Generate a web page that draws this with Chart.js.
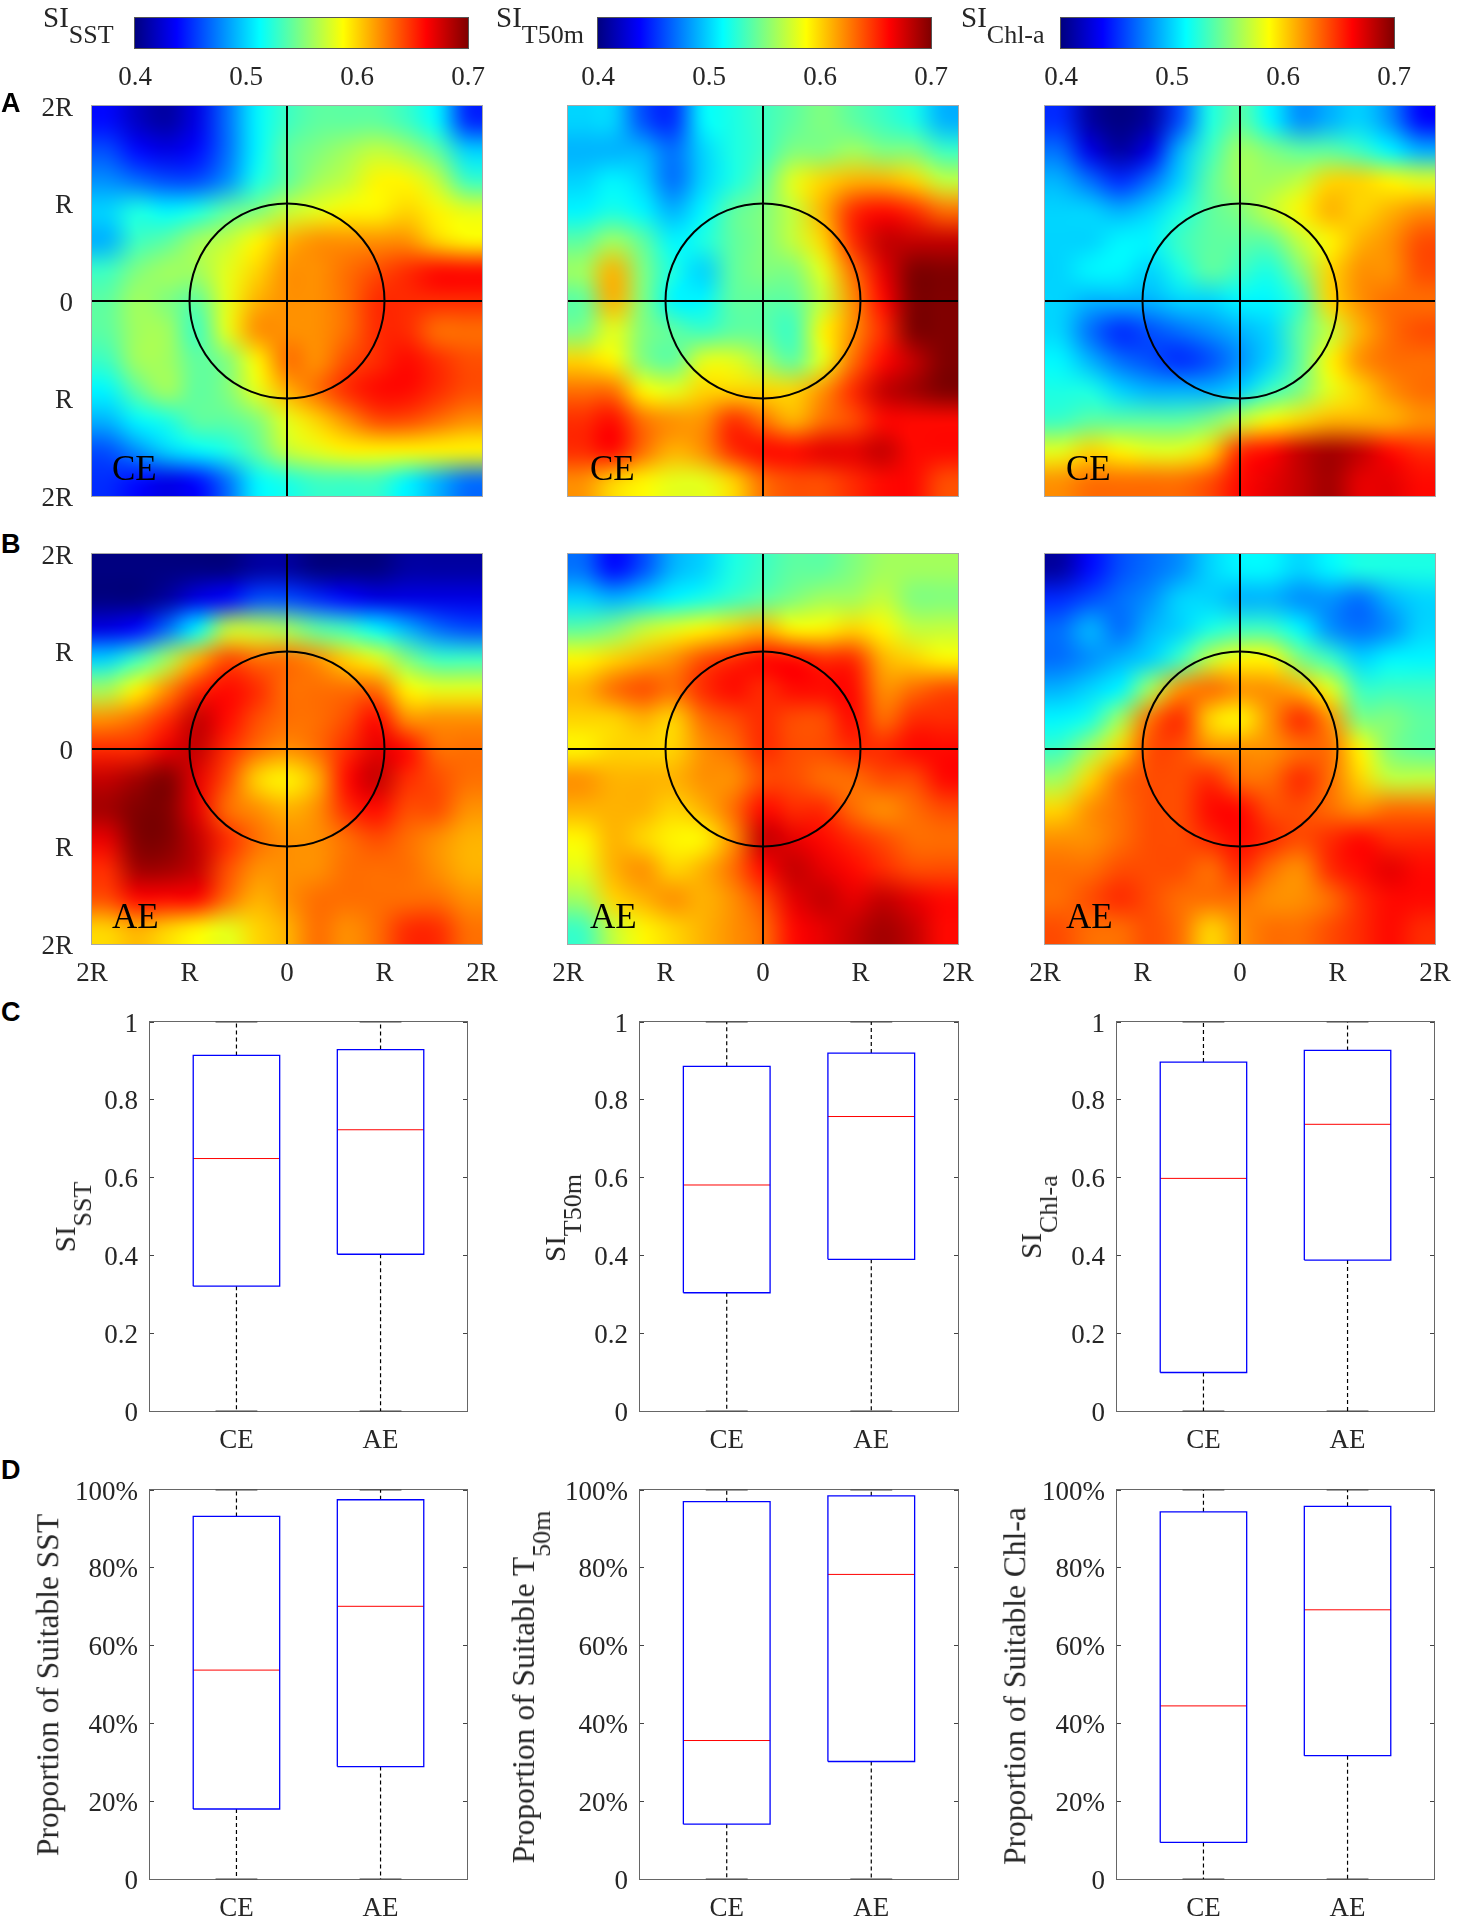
<!DOCTYPE html>
<html>
<head>
<meta charset="utf-8">
<title>Suitability index around eddies</title>
<script src="https://cdn.jsdelivr.net/npm/chart.js@4/dist/chart.umd.min.js"></script>
<style>
  html, body { margin: 0; background: #fff; }
  #fig { position: relative; width: 1457px; height: 1925px; overflow: hidden; }
  #fig canvas { position: absolute; }
  .t { position: absolute; font-family: "Liberation Serif", serif; color: #262626; white-space: nowrap; line-height: 1; }
  .t span { line-height: 0; font-size: 26px; }
  .letter { position: absolute; left: 1px; font: bold 27px "Liberation Sans", sans-serif; color: #000; line-height: 1; }
</style>
</head>
<body>
<div id="fig"></div>
<script>
// SI x 100, top row first
var sstCE = [
  [44,42,41,43,47,51,53,54,54,54,53,51,45],
  [46,44,43,44,47,51,54,55,56,57,56,54,50],
  [48,47,46,46,48,52,54,56,57,59,59,57,53],
  [50,52,51,52,54,55,57,58,59,59,60,59,58],
  [49,53,54,56,57,59,61,62,62,62,62,60,59],
  [53,55,56,56,58,60,62,62,63,64,65,66,66],
  [54,56,55,54,58,61,62,62,63,65,65,65,65],
  [54,56,56,53,58,62,62,62,63,65,65,63,63],
  [53,56,56,54,55,59,63,62,64,65,66,65,64],
  [51,54,56,54,55,58,61,63,65,66,66,65,64],
  [49,51,52,54,54,55,58,60,62,64,64,63,62],
  [46,48,50,51,52,54,57,58,59,59,59,59,59],
  [45,44,43,44,47,51,52,53,53,53,51,49,47]
];
var t50CE = [
  [50,50,46,45,51,52,53,54,55,54,53,52,49],
  [49,49,49,47,50,52,53,55,55,56,55,55,53],
  [50,51,50,47,50,52,54,58,60,61,61,60,57],
  [51,52,51,49,51,54,55,57,61,65,66,65,63],
  [54,56,54,51,52,54,55,57,60,65,68,68,68],
  [56,61,55,52,50,54,55,55,58,63,67,70,70],
  [54,61,55,51,51,54,54,54,57,62,66,70,70],
  [55,58,55,54,53,54,54,53,59,62,65,70,70],
  [60,59,55,54,58,58,56,54,58,63,66,68,70],
  [63,63,59,58,60,60,60,60,62,65,68,69,70],
  [65,66,63,62,62,65,63,61,63,64,66,66,66],
  [65,66,63,61,62,65,66,66,67,67,68,66,66],
  [62,60,59,58,58,60,63,64,64,65,66,66,64]
];
var chlCE = [
  [45,41,40,41,46,52,54,51,48,49,50,48,44],
  [47,43,41,43,49,53,56,55,54,54,53,51,49],
  [49,47,45,47,50,54,56,56,57,60,60,59,58],
  [50,50,49,50,52,54,55,57,59,61,60,61,62],
  [50,50,51,51,53,54,54,54,57,59,61,62,64],
  [50,51,51,50,52,54,53,52,55,60,62,62,64],
  [50,49,49,49,50,50,51,51,53,60,62,63,63],
  [50,47,45,46,47,48,49,50,54,57,61,63,64],
  [51,49,47,46,45,46,48,50,54,59,62,63,63],
  [52,52,50,49,49,49,50,53,55,58,60,62,63],
  [53,54,54,54,54,55,57,59,60,61,61,61,62],
  [58,60,59,58,58,60,65,66,68,69,68,66,65],
  [62,63,63,63,63,64,66,67,68,69,67,67,66]
];
var sstAE = [
  [40,40,40,40,40,41,41,40,40,40,41,41,41],
  [40,40,41,43,44,46,46,45,44,43,43,43,43],
  [43,44,47,51,57,57,56,54,53,51,49,47,46],
  [50,53,56,61,64,63,63,62,60,58,55,53,53],
  [56,59,62,65,66,65,63,63,63,63,59,58,58],
  [62,63,65,68,66,64,63,63,64,66,62,62,62],
  [65,65,67,68,65,63,62,63,65,67,66,63,63],
  [68,69,70,67,64,60,59,61,66,68,65,64,63],
  [69,70,70,67,63,62,61,62,65,66,64,64,62],
  [67,70,70,68,65,63,62,62,63,64,63,62,61],
  [65,69,69,68,64,62,62,62,63,63,63,62,61],
  [64,66,66,66,63,61,62,63,63,63,63,63,62],
  [60,61,60,59,58,60,61,63,62,63,65,65,63]
];
var t50AE = [
  [47,44,46,49,50,52,53,54,54,55,56,56,56],
  [50,49,50,51,52,53,54,55,56,56,57,55,55],
  [54,55,57,58,59,60,61,59,59,60,59,57,57],
  [59,60,61,62,64,65,66,66,65,65,61,60,59],
  [61,63,64,63,65,66,65,66,66,66,62,63,64],
  [60,60,61,60,63,64,65,64,64,66,63,65,65],
  [59,60,60,60,62,63,65,64,64,65,65,66,66],
  [62,61,61,61,62,62,64,64,63,63,64,64,66],
  [61,61,61,60,61,63,66,65,65,63,62,63,64],
  [59,61,60,59,59,62,68,67,66,65,64,63,63],
  [58,61,62,60,61,63,66,68,67,66,65,64,64],
  [56,60,61,62,61,62,64,67,68,67,68,67,66],
  [53,57,59,60,61,62,63,66,67,68,69,68,66]
];
var chlAE = [
  [41,44,46,47,48,50,51,51,50,51,52,52,52],
  [45,46,47,48,50,50,49,49,48,48,47,49,50],
  [47,49,47,49,50,52,53,53,51,48,47,48,50],
  [47,48,49,50,53,57,59,59,55,53,50,51,51],
  [49,50,51,56,62,63,62,62,61,58,53,53,53],
  [51,52,56,63,65,60,59,62,65,62,55,55,54],
  [53,56,60,64,64,62,62,62,63,63,59,55,54],
  [56,60,63,64,64,65,63,63,65,63,60,57,57],
  [60,62,63,64,64,66,66,64,64,63,62,63,63],
  [62,62,63,64,64,65,66,65,64,65,66,65,65],
  [63,63,64,64,64,63,65,63,62,65,66,67,66],
  [63,64,65,64,63,63,63,62,62,63,65,66,66],
  [64,63,63,64,63,60,62,63,63,64,65,66,65]
];

var categories = ["CE", "AE"];
var eddyTicks = { "-2": "2R", "-1": "R", "0": "0", "1": "R", "2": "2R" };

// box plots: lower quartile, median, upper quartile for CE, AE
var siSstQ1 = [0.321, 0.403], siSstMed = [0.649, 0.723], siSstQ3 = [0.914, 0.929];
var siT50Q1 = [0.304, 0.390], siT50Med = [0.581, 0.757], siT50Q3 = [0.886, 0.920];
var siChlQ1 = [0.099, 0.388], siChlMed = [0.598, 0.737], siChlQ3 = [0.897, 0.927];
var propSstQ1 = [0.180, 0.289], propSstMed = [0.537, 0.701], propSstQ3 = [0.932, 0.975];
var propT50Q1 = [0.141, 0.302], propT50Med = [0.356, 0.783], propT50Q3 = [0.970, 0.985];
var propChlQ1 = [0.094, 0.317], propChlMed = [0.445, 0.692], propChlQ3 = [0.944, 0.958];
var whiskerLow = [0, 0], whiskerHigh = [1, 1];

// jet colour map: stop position, r, g, b
var jetStops = [[0,0,0,128],[0.125,0,0,255],[0.375,0,255,255],[0.625,255,255,0],[0.875,255,0,0],[1,128,0,0]];
var siMin = 0.4, siMax = 0.7;

Chart.defaults.font.family = '"Liberation Serif", serif';
Chart.defaults.font.size = 27;
Chart.defaults.color = "#262626";

function jet(v) {
  var t = Math.min(1, Math.max(0, (v - siMin) / (siMax - siMin)));
  for (var i = 1; i < jetStops.length; i++) {
    if (t <= jetStops[i][0]) {
      var a = jetStops[i - 1], b = jetStops[i], f = (t - a[0]) / (b[0] - a[0]);
      return "rgb(" + [1, 2, 3].map(function (k) { return Math.round(a[k] + (b[k] - a[k]) * f); }).join(",") + ")";
    }
  }
  return "rgb(128,0,0)";
}

// plot frame
Chart.register({
  id: "frame",
  beforeDatasetsDraw: function (chart, args, opts) { if (opts.under) drawFrame(chart, opts); },
  afterDatasetsDraw: function (chart, args, opts) { if (!opts.under) drawFrame(chart, opts); }
});
function drawFrame(chart, opts) {
  var a = chart.chartArea, c = chart.ctx;
  c.save();
  c.strokeStyle = opts.color || "#666";
  c.lineWidth = 1;
  c.strokeRect(a.left - 0.5, a.top - 0.5, a.right - a.left + 1, a.bottom - a.top + 1);
  c.restore();
}

// the map cells come out of the library as flat squares; resample them so the map reads as smooth
Chart.register({
  id: "smoothCells",
  afterDatasetDraw: function (chart, args) {
    var ds = chart.data.datasets[args.index];
    if (!ds.cells) return;
    var a = chart.chartArea, c = chart.ctx, r = chart.currentDevicePixelRatio;
    var small = document.createElement("canvas");
    small.width = ds.cells; small.height = ds.cells;
    var s = small.getContext("2d");
    s.imageSmoothingEnabled = false;
    s.drawImage(chart.canvas, a.left * r, a.top * r, (a.right - a.left) * r, (a.bottom - a.top) * r, 0, 0, ds.cells, ds.cells);
    c.save();
    c.imageSmoothingEnabled = true;
    c.imageSmoothingQuality = "high";
    c.drawImage(small, a.left, a.top, a.right - a.left, a.bottom - a.top);
    c.restore();
  }
});

var fig = document.getElementById("fig");

function addCanvas(x0, y0, x1, y1, m) {
  var cv = document.createElement("canvas");
  cv.width = x1 - x0 + m.l + m.r;
  cv.height = y1 - y0 + m.t + m.b;
  cv.style.left = (x0 - m.l) + "px";
  cv.style.top = (y0 - m.t) + "px";
  fig.appendChild(cv);
  return cv;
}
function fixSize(prop, size) {
  return function (s) {
    s[prop] = size;
    s.paddingLeft = s.paddingRight = s.paddingTop = s.paddingBottom = 0;
  };
}
function baseOptions(m, plugins) {
  return {
    responsive: false, animation: false, events: [],
    layout: { padding: { left: 0, top: m.t, right: m.r, bottom: 0 } },
    plugins: Object.assign({ legend: { display: false }, tooltip: { enabled: false } }, plugins)
  };
}

function heatMap(grid, x0, y0, x1, y1, showY, showX) {
  var m = { l: 60, r: 40, t: 24, b: 50 };
  var n = grid.length, cells = [];
  grid.forEach(function (row, r) {
    row.forEach(function (v, c) {
      cells.push({ x: -2 + (c + 0.5) * 4 / n, y: 2 - (r + 0.5) * 4 / n, v: v / 100 });
    });
  });
  var eddyTick = function (v) { return eddyTicks[String(v)]; };
  var opts = baseOptions(m, { frame: { color: "#a8a8a8" } });
  opts.scales = {
    x: { type: "linear", min: -2, max: 2, afterFit: fixSize("height", m.b),
      grid: { display: false }, border: { display: false },
      ticks: { display: showX, stepSize: 1, padding: 6, maxRotation: 0, autoSkip: false, callback: eddyTick } },
    y: { type: "linear", min: -2, max: 2, afterFit: fixSize("width", m.l),
      grid: { display: false }, border: { display: false },
      ticks: { display: showY, stepSize: 1, padding: 11, labelOffset: 2.5, autoSkip: false, callback: eddyTick } }
  };
  return new Chart(addCanvas(x0, y0, x1, y1, m), {
    type: "scatter",
    data: { datasets: [
      { data: [{ x: 0, y: 0 }], pointStyle: "circle", backgroundColor: "transparent", borderColor: "#000", borderWidth: 2,
        radius: function (c) {
          if (!c.chart.chartArea) return 0;
          var s = c.chart.scales.x;
          return s.getPixelForValue(1) - s.getPixelForValue(0);
        } },
      { data: [{ x: -2, y: 0 }, { x: 2, y: 0 }], showLine: true, pointRadius: 0, borderColor: "#000", borderWidth: 2 },
      { data: [{ x: 0, y: -2 }, { x: 0, y: 2 }], showLine: true, pointRadius: 0, borderColor: "#000", borderWidth: 2 },
      { data: cells, cells: n, pointStyle: "rect", borderWidth: 0,
        radius: function (c) {
          var a = c.chart.chartArea;
          return a ? ((a.right - a.left) / n / 2 + 1) * Math.SQRT2 : 0;
        },
        backgroundColor: function (c) { return c.raw ? jet(c.raw.v) : "#fff"; } }
    ] },
    options: opts
  });
}

function colorBar(x0, x1) {
  var m = { l: 30, r: 40, t: 4, b: 46 };
  var opts = baseOptions(m, { frame: { color: "#555" } });
  opts.indexAxis = "y";
  opts.scales = {
    x: { type: "linear", min: siMin, max: siMax, afterFit: fixSize("height", m.b),
      grid: { drawOnChartArea: false, tickLength: -3, tickColor: "#333", tickWidth: 1 }, border: { display: false },
      ticks: { stepSize: 0.1, padding: 17, maxRotation: 0, autoSkip: false,
        callback: function (v) { return v.toFixed(1); } } },
    y: { type: "category", afterFit: fixSize("width", m.l), grid: { display: false }, border: { display: false }, ticks: { display: false } }
  };
  return new Chart(addCanvas(x0, 18, x1, 48, m), {
    type: "bar",
    data: { labels: ["SI"], datasets: [{
      data: [[siMin, siMax]], barPercentage: 1, categoryPercentage: 1, borderWidth: 0,
      backgroundColor: function (c) {
        var a = c.chart.chartArea;
        if (!a) return "#000";
        var g = c.chart.ctx.createLinearGradient(a.left, 0, a.right, 0);
        jetStops.forEach(function (s) { g.addColorStop(s[0], "rgb(" + s[1] + "," + s[2] + "," + s[3] + ")"); });
        return g;
      } }] },
    options: opts
  });
}

function boxPlot(q1, med, q3, x0, y0, x1, y1, tickText) {
  var m = { l: 120, r: 10, t: 24, b: 46 };
  var half = 0.3, cap = 0.145, sets = [];
  categories.forEach(function (name, i) {
    var c = i + 1;
    sets.push({ data: [{ x: c - half, y: q1[i] }, { x: c + half, y: q1[i] }, { x: c + half, y: q3[i] }, { x: c - half, y: q3[i] }, { x: c - half, y: q1[i] }],
      showLine: true, pointRadius: 0, borderColor: "#0000ff", borderWidth: 1.3, tension: 0 });
    sets.push({ data: [{ x: c - half, y: med[i] }, { x: c + half, y: med[i] }], showLine: true, pointRadius: 0, borderColor: "#ff0000", borderWidth: 1 });
    sets.push({ data: [{ x: c, y: q3[i] }, { x: c, y: whiskerHigh[i] }], showLine: true, pointRadius: 0, borderColor: "#000", borderWidth: 1.2, borderDash: [4, 3] });
    sets.push({ data: [{ x: c, y: q1[i] }, { x: c, y: whiskerLow[i] }], showLine: true, pointRadius: 0, borderColor: "#000", borderWidth: 1.2, borderDash: [4, 3] });
    sets.push({ data: [{ x: c - cap, y: whiskerHigh[i] }, { x: c + cap, y: whiskerHigh[i] }], showLine: true, pointRadius: 0, borderColor: "#444", borderWidth: 1, clip: 2 });
    sets.push({ data: [{ x: c - cap, y: whiskerLow[i] }, { x: c + cap, y: whiskerLow[i] }], showLine: true, pointRadius: 0, borderColor: "#444", borderWidth: 1, clip: 2 });
  });
  var opts = baseOptions(m, { frame: { color: "#666", under: true } });
  var tickGrid = { drawOnChartArea: false, tickLength: -4, tickColor: "#444", tickWidth: 1 };
  opts.scales = {
    x: { type: "linear", min: 0.4, max: 2.6, afterFit: fixSize("height", m.b),
      afterBuildTicks: function (s) { s.ticks = categories.map(function (n, i) { return { value: i + 1 }; }); },
      grid: { display: false }, border: { display: false },
      ticks: { padding: 5.5, maxRotation: 0, autoSkip: false, callback: function (v) { return categories[v - 1]; } } },
    y: { type: "linear", min: 0, max: 1, afterFit: fixSize("width", m.l), grid: tickGrid, border: { display: false },
      ticks: { stepSize: 0.2, padding: 16, labelOffset: 2.5, autoSkip: false, callback: tickText } },
    y2: { type: "linear", position: "right", min: 0, max: 1, afterFit: fixSize("width", 0), grid: tickGrid, border: { display: false },
      ticks: { stepSize: 0.2, display: false } }
  };
  return new Chart(addCanvas(x0, y0, x1, y1, m), { type: "scatter", data: { datasets: sets }, options: opts });
}

function addText(html, x, y, size, rotated, color) {
  var el = document.createElement("div");
  el.className = "t";
  el.style.fontSize = size + "px";
  el.style.left = x + "px";
  el.style.top = y + "px";
  if (color) el.style.color = color;
  if (rotated) el.style.transform = "translate(-50%,-50%) rotate(-90deg)";
  el.innerHTML = html;
  fig.appendChild(el);
}
function sub(s) { return '<span style="vertical-align:-16px">' + s + "</span>"; }
function addLetter(s, y) {
  var el = document.createElement("div");
  el.className = "letter";
  el.style.top = y + "px";
  el.textContent = s;
  fig.appendChild(el);
}

var siTick = function (v) { return v === 0 ? "0" : String(Math.round(v * 10) / 10); };
var pctTick = function (v) { return v === 0 ? "0" : Math.round(v * 100) + "%"; };

colorBar(135, 468); colorBar(598, 931); colorBar(1061, 1394);

heatMap(sstCE, 92, 106, 482, 496, true, false);
heatMap(t50CE, 568, 106, 958, 496, false, false);
heatMap(chlCE, 1045, 106, 1435, 496, false, false);
heatMap(sstAE, 92, 554, 482, 944, true, true);
heatMap(t50AE, 568, 554, 958, 944, false, true);
heatMap(chlAE, 1045, 554, 1435, 944, false, true);

boxPlot(siSstQ1, siSstMed, siSstQ3, 150, 1022, 467, 1411, siTick);
boxPlot(siT50Q1, siT50Med, siT50Q3, 640, 1022, 958, 1411, siTick);
boxPlot(siChlQ1, siChlMed, siChlQ3, 1117, 1022, 1434, 1411, siTick);
boxPlot(propSstQ1, propSstMed, propSstQ3, 150, 1490, 467, 1879, pctTick);
boxPlot(propT50Q1, propT50Med, propT50Q3, 640, 1490, 958, 1879, pctTick);
boxPlot(propChlQ1, propChlMed, propChlQ3, 1117, 1490, 1434, 1879, pctTick);

// colour bar names
addText("SI" + sub("SST"), 43, 3, 29);
addText("SI" + sub("T50m"), 496, 3, 29);
addText("SI" + sub("Chl-a"), 961, 3, 29);

// eddy type inside each map
[112, 590, 1066].forEach(function (x) {
  addText("CE", x, 451, 35, false, "#000");
  addText("AE", x, 899, 35, false, "#000");
});

// rotated axis names
addText("SI" + sub("SST"), 66.5, 1217, 29, true);
addText("SI" + sub("T50m"), 557, 1217.5, 29, true);
addText("SI" + sub("Chl-a"), 1033, 1216.5, 29, true);
addText("Proportion of Suitable SST", 47.5, 1685, 31.5, true);
addText("Proportion of Suitable T" + sub("50m"), 524.5, 1686.5, 31.5, true);
addText("Proportion of Suitable Chl-a", 1014.5, 1686, 31.5, true);

addLetter("A", 90); addLetter("B", 531); addLetter("C", 999); addLetter("D", 1457);
</script>
</body>
</html>
